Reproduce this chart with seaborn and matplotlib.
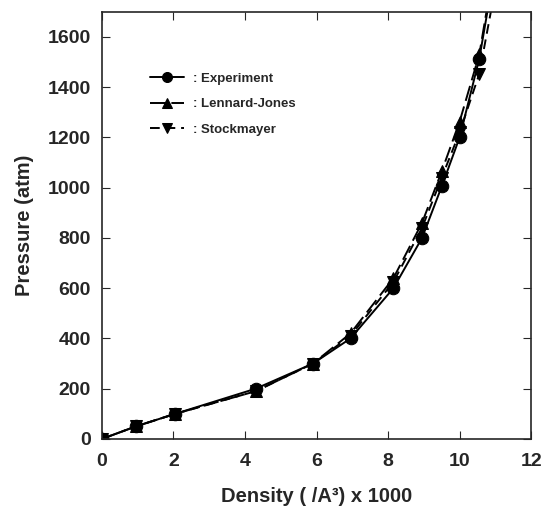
import numpy as np
import pandas as pd
import seaborn as sns
import matplotlib.pyplot as plt
from matplotlib.ticker import MultipleLocator

# Density (/A^3 x 1000) and pressure (atm)
density = [0.0, 0.95, 2.05, 4.3, 5.9, 6.95, 8.15, 8.95, 9.5, 10.0, 10.55, 11.2]
p_experiment = [0, 50, 100, 200, 300, 400, 600, 800, 1005, 1200, 1513, 2050]
p_lennard_jones = [0, 50, 100, 190, 300, 420, 640, 860, 1065, 1263, 1530, 2080]
p_stockmayer = [0, 50, 100, 190, 300, 410, 625, 840, 1040, 1220, 1453, 1950]

series = {
    ": Experiment": p_experiment,
    ": Lennard-Jones": p_lennard_jones,
    ": Stockmayer": p_stockmayer,
}
frames = [pd.DataFrame({"Density": density, "Pressure": v, "Model": k}) for k, v in series.items()]
df = pd.concat(frames, ignore_index=True)

sns.set_style("ticks")
plt.rcParams["font.family"] = ["Liberation Sans", "DejaVu Sans"]
plt.rcParams["font.weight"] = "bold"

fig, ax = plt.subplots(figsize=(5.42, 5.11), dpi=100)
sns.lineplot(data=df, x="Density", y="Pressure", hue="Model", style="Model",
             palette=["black"] * 3, markers=["o", "^", "v"],
             dashes=[(None, None), (8, 3), (5, 3)], markersize=9, linewidth=1.4,
             markeredgecolor="black", ax=ax)

ax.set_xlim(0, 12)
ax.set_ylim(0, 1700)
ax.xaxis.set_major_locator(MultipleLocator(2))
ax.yaxis.set_major_locator(MultipleLocator(200))
ax.tick_params(which="major", direction="in", top=True, right=True, labelsize=14, length=6)
ax.tick_params(axis="x", pad=10)
ax.tick_params(axis="y", pad=8)
for s in ax.spines.values():
    s.set_linewidth(1.2)
for lbl in ax.get_xticklabels() + ax.get_yticklabels():
    lbl.set_fontweight("bold")

ax.set_xlabel("Density ( /A³) x 1000", fontsize=14.5, fontweight="bold", labelpad=12)
ax.set_ylabel("Pressure (atm)", fontsize=14.5, fontweight="bold", labelpad=10)

leg = ax.legend(loc="upper left", bbox_to_anchor=(0.084, 0.885), frameon=False,
                prop={"size": 9.5, "weight": "bold"}, handlelength=2.6,
                handletextpad=0.7, labelspacing=1.0, markerscale=0.8)

fig.subplots_adjust(left=0.188, right=0.98, top=0.977, bottom=0.141)
fig.savefig("out.png", dpi=100)
